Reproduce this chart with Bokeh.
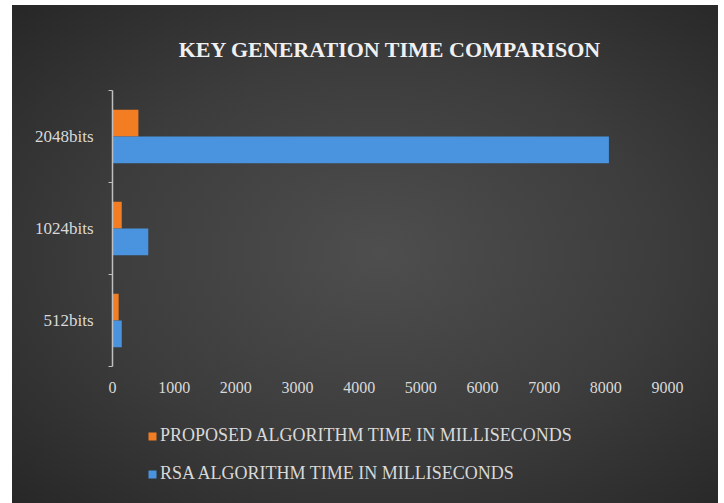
from bokeh.plotting import figure
from bokeh.models import ColumnDataSource, Range1d, FixedTicker, Legend, LegendItem
from bokeh.layouts import column
from bokeh.transform import dodge
from bokeh.embed import file_html
from bokeh.resources import INLINE

# ---- data ----
categories = ["512bits", "1024bits", "2048bits"]
proposed_ms = [100, 150, 420]
rsa_ms = [150, 580, 8050]
x_ticks = [0, 1000, 2000, 3000, 4000, 5000, 6000, 7000, 8000, 9000]
series_labels = ["PROPOSED ALGORITHM TIME IN MILLISECONDS",
                 "RSA ALGORITHM TIME IN MILLISECONDS"]
title_text = "KEY GENERATION TIME COMPARISON"

ORANGE = "#F27D22"
BLUE = "#4A93DF"
TXT = "#d9d9d9"
FONT = "Liberation Serif"

pos = [i + 0.5 for i in range(len(categories))]
src = ColumnDataSource(dict(y=pos, proposed=proposed_ms, rsa=rsa_ms, cat=categories))

p = figure(width=706, height=410, output_backend="svg", toolbar_location=None,
           x_range=Range1d(0, 9000), y_range=Range1d(0, len(categories)),
           min_border_left=100, min_border_right=51, min_border_top=84,
           min_border_bottom=49,
           background_fill_color=None, border_fill_color=None,
           outline_line_color=None)

bh = 0.29
r1 = p.hbar(y=dodge("y", bh / 2), left=0, right="proposed", height=bh,
            fill_color=ORANGE, line_color=None, source=src)
r2 = p.hbar(y=dodge("y", -bh / 2), left=0, right="rsa", height=bh,
            fill_color=BLUE, line_color=None, source=src)

p.xgrid.grid_line_color = None
p.ygrid.grid_line_color = None

# y axis
ya = p.yaxis[0]
ya.ticker = FixedTicker(ticks=pos, minor_ticks=list(range(len(categories) + 1)))
ya.major_label_overrides = {pv: c for pv, c in zip(pos, categories)}
ya.major_tick_line_color = None
ya.minor_tick_in = 0
ya.minor_tick_out = 4
ya.minor_tick_line_color = "#bfbfbf"
ya.axis_line_color = "#bfbfbf"
ya.axis_line_width = 1.5
ya.major_label_standoff = 13
ya.major_label_text_font = FONT
ya.major_label_text_font_size = "17px"
ya.major_label_text_color = TXT

# x axis
xa = p.xaxis[0]
xa.ticker = FixedTicker(ticks=x_ticks)
xa.axis_line_color = None
xa.major_tick_line_color = None
xa.minor_tick_line_color = None
xa.major_label_standoff = 9
xa.major_label_text_font = FONT
xa.major_label_text_font_size = "16px"
xa.major_label_text_color = TXT

# title
p.title.text = title_text
p.title.align = "center"
p.title.text_font = FONT
p.title.text_font_style = "bold"
p.title.text_font_size = "22px"
p.title.text_color = "#f0f0f0"
p.title.standoff = 58

# legend strip below the chart; its renderers use the same series but lie
# outside this strip's visible range, so only the legend shows
lf = figure(width=706, height=88, output_backend="svg", toolbar_location=None,
            x_range=Range1d(0, 1), y_range=Range1d(100, 101),
            x_axis_location=None, y_axis_location=None,
            min_border=0, background_fill_color=None, border_fill_color=None,
            outline_line_color=None)
lf.grid.grid_line_color = None
l1 = lf.hbar(y="y", left=0, right="proposed", height=bh, fill_color=ORANGE,
             line_color=None, source=src)
l2 = lf.hbar(y="y", left=0, right="rsa", height=bh, fill_color=BLUE,
             line_color=None, source=src)

legend = Legend(items=[LegendItem(label=series_labels[0], renderers=[l1]),
                       LegendItem(label=series_labels[1], renderers=[l2])],
                orientation="vertical", location=(35, 19),
                label_text_font=FONT, label_text_font_size="18px",
                label_text_color=TXT, glyph_width=10, glyph_height=10,
                label_standoff=3, spacing=17, padding=0, margin=0,
                background_fill_alpha=0, border_line_color=None)
lf.add_layout(legend)

layout = column(p, lf, spacing=0,
                styles={"background": "radial-gradient(ellipse at 52% 50%, #4e4e4e 0%, #3c3c3c 55%, #272727 100%)",
                        "margin-left": "12px", "margin-top": "5px"})

open("out.html", "w").write(file_html(layout, INLINE))
